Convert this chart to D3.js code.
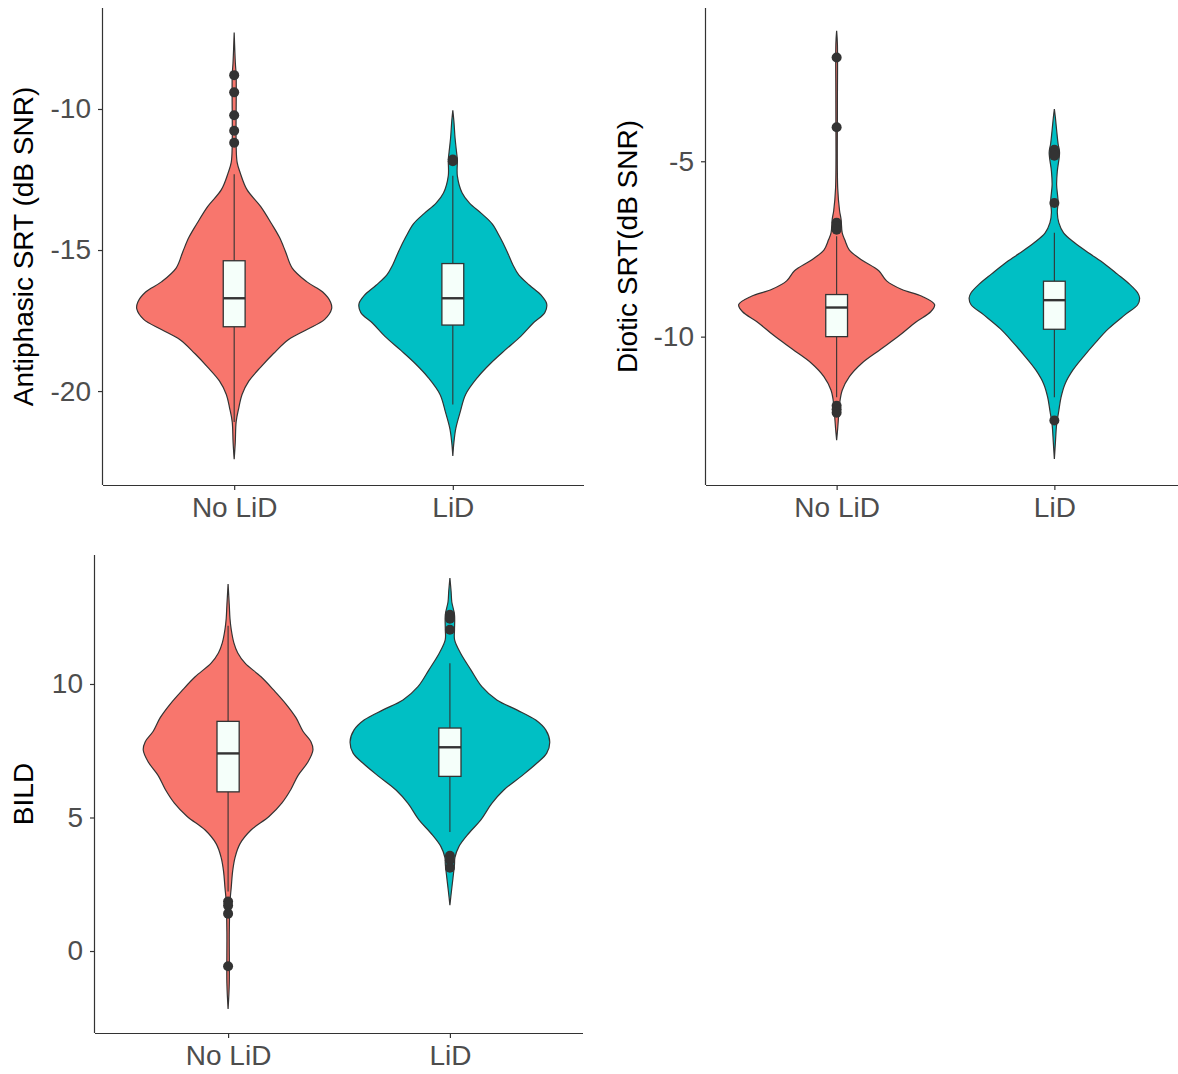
<!DOCTYPE html>
<html lang="en">
<meta charset="utf-8"/>
<head>
<style>
  body { margin: 0; background: #fff; }
  svg { display: block; }
  text { font-family: "Liberation Sans", Arial, sans-serif; }
</style>
</head>
<body>
<svg id="chart" width="1178" height="1074"></svg>

<script src="https://d3js.org/d3.v7.min.js"></script>
<script>
// groups and colours
const groups = ["No LiD", "LiD"]
const groupColors = ["#F8766D", "#00BFC4"]

// density profiles: [value, relative half width]
const antiNoLid = [[-7.29,0],[-8.38,0.012],[-8.8,0.02],[-11.28,0.02],[-11.89,0.03],[-12.25,0.06],[-12.86,0.13],[-13.46,0.27],[-14.07,0.38],[-14.55,0.46],[-15.04,0.52],[-15.64,0.59],[-16.13,0.74],[-16.49,0.9],[-16.85,0.98],[-17.09,0.99],[-17.46,0.92],[-17.82,0.74],[-18.18,0.55],[-18.67,0.4],[-19.15,0.27],[-19.64,0.15],[-20.12,0.08],[-20.61,0.046],[-21.09,0.02],[-21.82,0.011],[-22.42,0]]
const antiLid = [[-10.05,0],[-10.44,0.011],[-11.04,0.023],[-11.53,0.038],[-11.79,0.046],[-12.37,0.046],[-12.98,0.095],[-13.34,0.17],[-13.7,0.29],[-14.07,0.4],[-14.55,0.48],[-15.04,0.55],[-15.52,0.61],[-15.88,0.67],[-16.25,0.78],[-16.61,0.9],[-16.91,0.954],[-17.22,0.935],[-17.58,0.82],[-18.06,0.69],[-18.55,0.53],[-19.03,0.38],[-19.52,0.25],[-20.12,0.13],[-20.73,0.076],[-21.33,0.03],[-21.82,0.011],[-22.3,0]]
const dioticNoLid = [[-1.28,0],[-1.67,0.008],[-3.33,0.008],[-5.77,0.011],[-6.41,0.03],[-6.65,0.045],[-7.04,0.057],[-7.24,0.083],[-7.53,0.13],[-7.82,0.26],[-8.12,0.43],[-8.41,0.51],[-8.65,0.66],[-8.85,0.87],[-9.09,1.0],[-9.29,0.96],[-9.58,0.81],[-9.97,0.64],[-10.36,0.45],[-10.75,0.26],[-11.14,0.13],[-11.53,0.057],[-11.92,0.03],[-12.31,0.019],[-12.61,0.011],[-12.95,0]]
const dioticLid = [[-3.51,0],[-3.77,0.011],[-4.11,0.023],[-4.5,0.038],[-4.75,0.053],[-5.28,0.03],[-5.67,0.023],[-6.16,0.038],[-6.46,0.03],[-6.75,0.045],[-7.04,0.094],[-7.33,0.21],[-7.63,0.36],[-7.92,0.51],[-8.21,0.64],[-8.51,0.77],[-8.75,0.85],[-8.9,0.87],[-9.09,0.85],[-9.38,0.72],[-9.78,0.55],[-10.17,0.42],[-10.56,0.3],[-10.95,0.19],[-11.34,0.11],[-11.73,0.068],[-12.12,0.045],[-12.51,0.023],[-13.0,0.011],[-13.49,0]]
const bildNoLid = [[13.74,0],[12.95,0.012],[12.44,0.019],[12.05,0.031],[11.54,0.058],[11.16,0.097],[10.78,0.17],[10.27,0.33],[9.76,0.46],[9.25,0.58],[8.74,0.68],[8.23,0.75],[7.84,0.83],[7.53,0.85],[7.08,0.8],[6.57,0.7],[6.06,0.63],[5.55,0.54],[5.04,0.41],[4.53,0.23],[4.02,0.12],[3.51,0.07],[3.0,0.046],[2.36,0.031],[1.85,0.019],[0.7,0.012],[-1.21,0.012],[-2.17,0]]
const bildLid = [[13.97,0],[13.46,0.012],[13.07,0.019],[12.59,0.046],[12.03,0.046],[11.65,0.047],[11.15,0.107],[10.53,0.21],[9.9,0.32],[9.4,0.47],[9.03,0.67],[8.65,0.86],[8.28,0.96],[7.84,1.0],[7.41,0.97],[7.03,0.87],[6.53,0.71],[6.03,0.54],[5.53,0.42],[4.91,0.31],[4.41,0.19],[3.91,0.09],[3.5,0.05],[3.25,0.046],[2.74,0.031],[2.23,0.015],[1.72,0]]

// box stats: [lower whisker, q1, median, q3, upper whisker]
const antiBoxes = [[-21.1,-17.72,-16.71,-15.38,-12.31],[-20.48,-17.66,-16.71,-15.48,-12.37]]
const dioticBoxes = [[-11.73,-10.0,-9.17,-8.8,-7.14],[-11.73,-9.79,-8.96,-8.42,-7.04]]
const bildBoxes = [[2.23,5.96,7.4,8.6,12.18],[4.46,6.54,7.63,8.35,10.78]]

// outliers
const antiOutliers = [[-8.8,-9.41,-10.22,-10.77,-11.2],[-11.79,-11.85]]
const dioticOutliers = [[-2.04,-4.03,-6.75,-6.85,-6.95,-11.97,-12.07,-12.17],[-4.67,-4.77,-4.84,-6.19,-12.39]]
const bildOutliers = [[1.85,1.7,1.4,-0.57],[12.59,12.44,12.03,3.57,3.4,3.12]]

// tick values
const antiTicks = [-20, -15, -10]
const dioticTicks = [-10, -5]
const bildTicks = [0, 5, 10]

let svg = d3.select("#chart")

let panels = [
  {title: "Antiphasic SRT (dB SNR)", dens: [antiNoLid, antiLid], boxes: antiBoxes, out: antiOutliers,
   ticks: antiTicks, domain: [-23.33, -6.42], x0: 103, x1: 584, top: 8, bottom: 485, titleX: 33},
  {title: "Diotic SRT(dB SNR)", dens: [dioticNoLid, dioticLid], boxes: dioticBoxes, out: dioticOutliers,
   ticks: dioticTicks, domain: [-14.23, -0.63], x0: 706, x1: 1185, top: 8, bottom: 485, titleX: 637},
  {title: "BILD", dens: [bildNoLid, bildLid], boxes: bildBoxes, out: bildOutliers,
   ticks: bildTicks, domain: [-3.07, 14.83], x0: 95, x1: 583, top: 555, bottom: 1033, titleX: 33}
]

panels.forEach(function(p){
  let g = svg.append("g")

  let x = d3.scalePoint().domain(groups).range([p.x0, p.x1]).padding(0.6)
  let y = d3.scaleLinear().domain(p.domain).range([p.bottom, p.top])
  let halfMax = x.step() * 0.45
  let boxW = x.step() * 0.1

  // violins
  p.dens.forEach(function(d, i){
    let cx = x(groups[i])
    let area = d3.area()
      .y(v => y(v[0]))
      .x0(v => cx - v[1] * halfMax)
      .x1(v => cx + v[1] * halfMax)
      .curve(d3.curveCatmullRom)
    g.append("path")
      .datum(d)
      .attr("d", area)
      .attr("fill", groupColors[i])
      .attr("stroke", "#333")
      .attr("stroke-width", 1.2)
  })

  // boxplots
  p.boxes.forEach(function(b, i){
    let cx = x(groups[i])
    g.append("line")
      .attr("x1", cx).attr("x2", cx)
      .attr("y1", y(b[0])).attr("y2", y(b[4]))
      .attr("stroke", "#333").attr("stroke-width", 1.1)
    g.append("rect")
      .attr("x", cx - boxW / 2)
      .attr("width", boxW)
      .attr("y", y(b[3]))
      .attr("height", y(b[1]) - y(b[3]))
      .attr("fill", "#F5FFFA")
      .attr("stroke", "#333")
      .attr("stroke-width", 1.3)
    g.append("line")
      .attr("x1", cx - boxW / 2).attr("x2", cx + boxW / 2)
      .attr("y1", y(b[2])).attr("y2", y(b[2]))
      .attr("stroke", "#333").attr("stroke-width", 2.4)
  })

  // outlier points
  p.out.forEach(function(o, i){
    g.selectAll(null)
      .data(o)
      .enter()
      .append("circle")
      .attr("cx", x(groups[i]))
      .attr("cy", v => y(v))
      .attr("r", 5)
      .attr("fill", "#333")
  })

  // axes (plain hyphen for negative ticks, as in the original)
  let yAxis = g.append("g")
    .attr("transform", "translate(" + p.x0 + ",0)")
    .call(d3.axisLeft(y).tickValues(p.ticks).tickFormat(d => String(d))
      .tickSize(5).tickPadding(7).tickSizeOuter(0))
  let xAxis = g.append("g")
    .attr("transform", "translate(0," + p.bottom + ")")
    .call(d3.axisBottom(x).tickSize(5).tickPadding(7).tickSizeOuter(0))

  ;[yAxis, xAxis].forEach(function(a){
    a.select(".domain").attr("stroke", "#333").attr("stroke-width", 1.2)
    a.selectAll(".tick line").attr("stroke", "#333").attr("stroke-width", 1.2)
    a.selectAll(".tick text")
      .attr("fill", "#4D4D4D")
      .attr("font-size", 28)
      .attr("font-family", "Liberation Sans, Arial, sans-serif")
  })
  xAxis.select(".domain").attr("d", "M" + p.x0 + ",0.5H" + Math.min(p.x1, 1178))
  yAxis.select(".domain").attr("d", "M-0.5," + p.bottom + "V" + p.top)

  g.append("text")
    .attr("transform", "translate(" + p.titleX + "," + ((p.top + p.bottom) / 2) + ") rotate(-90)")
    .attr("text-anchor", "middle")
    .attr("font-size", 28)
    .attr("fill", "#000")
    .text(p.title)
})
</script>
</body>
</html>
